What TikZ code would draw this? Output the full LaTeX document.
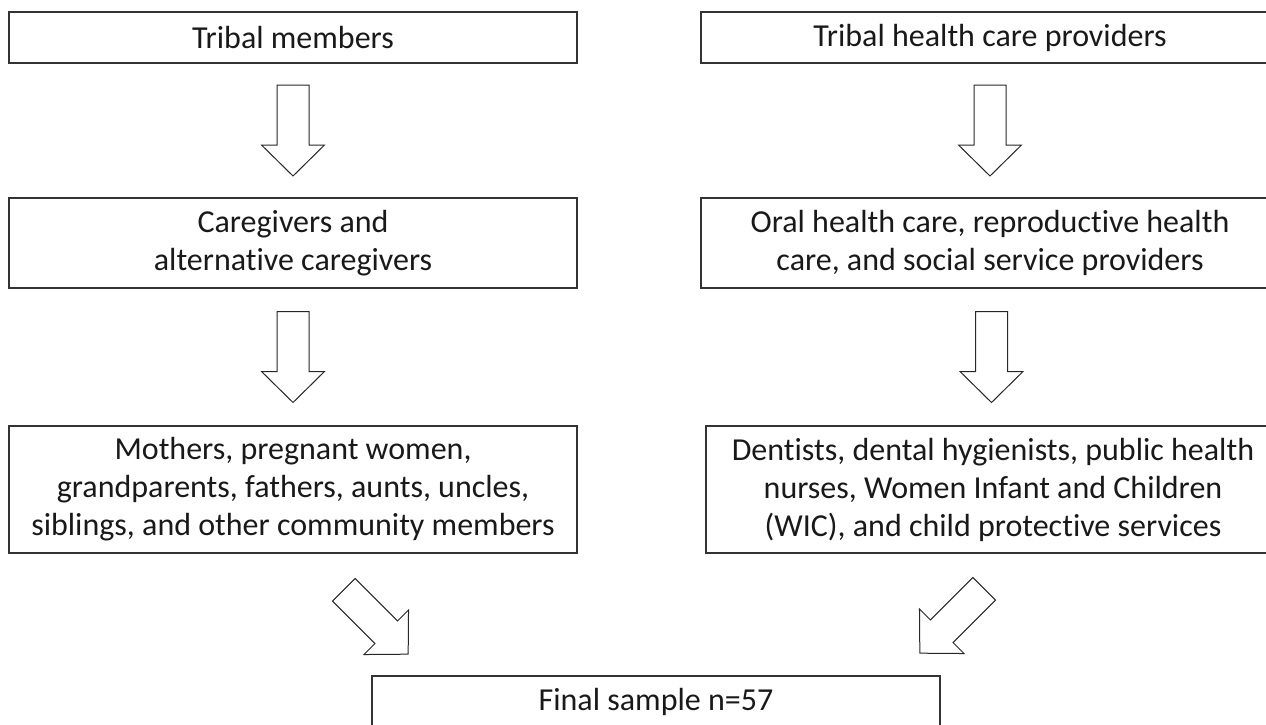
\documentclass[tikz,border=0pt]{standalone}
\usepackage{fontspec}
\setmainfont{Carlito}[Ligatures=NoCommon]
\usetikzlibrary{calc}

\tikzset{
  box/.style={draw=black!80,line width=1.3pt,minimum width=568pt,align=center,inner sep=0pt,
    font=\fontsize{32}{38}\selectfont,text=black!90},
  fatarrow/.pic={\draw[line width=1pt,black!85] (-16,-45.5)--(16,-45.5)--(16,14.5)--(31.5,14.5)--(0,45.5)--(-31.5,14.5)--(-16,14.5)--cycle;}
}

\begin{document}
\begin{tikzpicture}[x=1pt,y=-1pt]
\useasboundingbox (0,0) rectangle (1266,724);
\clip (0,0) rectangle (1266,724);
% left column
\node[box,minimum height=51pt] (members) at (293,37.5) {Tribal members};
\node[box,minimum height=90pt] (caregivers) at (293,243) {Caregivers and\\alternative caregivers};
\node[box,minimum height=127pt] (mothers) at (293,489.5) {Mothers, pregnant women,\\grandparents, fathers, aunts, uncles,\\siblings, and other community members};
% right column
\node[box,minimum width=578pt,minimum height=51pt] (providers) at (990,37.5) {Tribal health care providers};
\node[box,minimum width=578pt,minimum height=90pt] (oral) at (990,243) {Oral health care, reproductive health\\care, and social service providers};
\node[box,minimum width=574pt,minimum height=127pt] (dentists) at (993,489.5) {Dentists, dental hygienists, public health\\nurses, Women Infant and Children\\(WIC), and child protective services};
% sample
\node[box,minimum height=51pt] (final) at (656,701.5) {Final sample n=57};
\pic at ($(members.south)!.5!(caregivers.north)$) {fatarrow};
\pic at ($(caregivers.south)!.5!(mothers.north)$) {fatarrow};
\pic at ($(providers.south)!.5!(oral.north)$) {fatarrow};
\pic at ($(oral.south)!.5!(dentists.north)$) {fatarrow};
\pic[rotate=45] at (376,622) {fatarrow};
\pic[rotate=-45] at (952,621) {fatarrow};
\end{tikzpicture}
\end{document}
